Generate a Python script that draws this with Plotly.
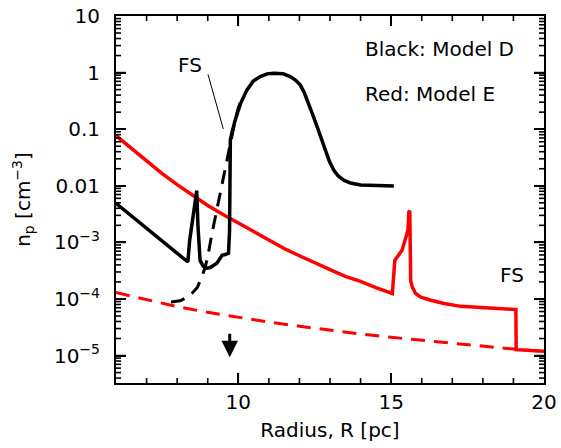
import plotly.graph_objects as go
import numpy as np

# ---- data ----
black_solid_x = [6.0, 8.35, 8.41, 8.48, 8.55, 8.64, 8.68, 8.75, 8.85, 8.97, 9.08, 9.30, 9.41, 9.47,
                 9.57, 9.68, 9.715, 9.72, 9.734, 9.74, 9.79, 9.90, 10.07, 10.28, 10.49, 10.72, 10.94,
                 11.16, 11.47, 11.70, 11.87, 12.03, 12.16, 12.30, 12.44, 12.58, 12.72, 12.85, 12.98,
                 13.12, 13.27, 13.45, 13.67, 14.0, 15.09]
black_solid_y = [4.9e-3, 4.5e-4, 1.09e-3, 2.28e-3, 3.7e-3, 8.2e-3, 2.0e-3, 4.8e-4, 3.8e-4, 3.5e-4,
                 3.6e-4, 4.3e-4, 5.25e-4, 5.9e-4, 6.1e-4, 6.4e-4, 1.64e-3, 5.6e-3, 0.0217, 0.0646,
                 0.0857, 0.146, 0.28, 0.49, 0.71, 0.85, 0.95, 0.97, 0.95, 0.85, 0.74, 0.60, 0.44,
                 0.29, 0.178, 0.11, 0.067, 0.043, 0.027, 0.019, 0.0149, 0.0126, 0.0112, 0.0103, 0.0099]

black_dash_x = [7.8, 8.1, 8.33, 8.49, 8.66, 8.81, 8.92, 9.01, 9.14, 9.24, 9.35, 9.47, 9.57, 9.67,
                9.79, 9.90, 10.0, 10.12]
black_dash_y = [8.8e-5, 9.3e-5, 1.07e-4, 1.26e-4, 1.6e-4, 2.45e-4, 3.7e-4, 5.9e-4, 1.44e-3, 2.7e-3,
                4.9e-3, 0.0103, 0.019, 0.035, 0.085, 0.146, 0.237, 0.356]

red_solid_x = [6.0, 6.5, 7.0, 7.5, 8.0, 8.5, 9.0, 9.5, 10.0, 10.5, 11.0, 11.5, 12.0, 12.5, 13.0,
               13.5, 14.0, 14.5, 15.04, 15.12, 15.2, 15.36, 15.47, 15.55, 15.58, 15.61, 15.64,
               15.69, 15.8, 15.97, 16.3, 16.73, 17.28, 18.37, 19.08, 19.09, 20.0]
red_solid_y = [0.077, 0.046, 0.027, 0.0165, 0.0105, 0.0068, 0.0045, 0.0031, 0.0022, 0.0015,
               0.00108, 0.00078, 0.00058, 0.00043, 0.00033, 0.00025, 0.000205, 0.000158,
               0.000125, 0.00048, 0.00056, 0.00073, 0.00117, 0.00164, 0.00347, 0.0036, 0.00021,
               0.000163, 0.000125, 0.000108, 9.5e-5, 8.3e-5, 7.4e-5, 6.8e-5, 6.5e-5, 1.27e-5, 1.19e-5]

red_dash_x = [6, 7, 8, 9, 10, 11, 12, 13, 14, 15, 16, 17, 18, 19, 20]
red_dash_y = [1.3e-4, 9.6e-5, 7.3e-5, 5.8e-5, 4.7e-5, 3.9e-5, 3.3e-5, 2.8e-5, 2.4e-5, 2.1e-5,
              1.85e-5, 1.63e-5, 1.45e-5, 1.3e-5, 1.18e-5]

y_tickvals = [10, 1, 0.1, 0.01, 1e-3, 1e-4, 1e-5]
y_ticktext = ["10", "1", "0.1", "0.01", "10<sup>\u22123</sup>", "10<sup>\u22124</sup>", "10<sup>\u22125</sup>"]
x_tickvals = [10, 15, 20]
x_ticktext = ["10", "15", "20"]
x_minor_vals = [7, 8, 9, 11, 12, 13, 14, 16, 17, 18, 19]

FONT = "DejaVu Sans"
X_RANGE = [6, 20]
Y_RANGE = [-5.485, 1]
MARGIN = dict(l=116, r=17, t=16, b=65)
W, H = 561, 448
PW = W - MARGIN["l"] - MARGIN["r"]
PH = H - MARGIN["t"] - MARGIN["b"]
PX_PER_X = PW / (X_RANGE[1] - X_RANGE[0])
PX_PER_DEC = PH / (Y_RANGE[1] - Y_RANGE[0])

fig = go.Figure()
fig.add_trace(go.Scatter(x=red_dash_x, y=red_dash_y, mode="lines",
                         line=dict(color="#ff0000", width=3, dash="14px,9px")))
fig.add_trace(go.Scatter(x=red_solid_x, y=red_solid_y, mode="lines",
                         line=dict(color="#ff0000", width=3.5)))
fig.add_trace(go.Scatter(x=black_dash_x, y=black_dash_y, mode="lines",
                         line=dict(color="black", width=3, dash="14px,9px")))
fig.add_trace(go.Scatter(x=black_solid_x, y=black_solid_y, mode="lines",
                         line=dict(color="black", width=3.5)))

# tick marks on all four sides, built from the tick value lists
def tick_segments():
    tx, ty = [], []
    ybot, ytop = 10 ** Y_RANGE[0], 10 ** Y_RANGE[1]
    for xv, ln in [(v, 10) for v in x_tickvals[:-1]] + [(v, 5) for v in x_minor_vals]:
        d = ln / PX_PER_DEC
        tx += [xv, xv, None, xv, xv, None]
        ty += [ybot, 10 ** (Y_RANGE[0] + d), None, ytop, 10 ** (Y_RANGE[1] - d), None]
    ylist = [(v, 10) for v in y_tickvals]
    for e in range(-6, 1):
        for m in range(2, 10):
            ylist.append((m * 10.0 ** e, 5))
    for yv, ln in ylist:
        ly = np.log10(yv)
        if ly <= Y_RANGE[0] or ly >= Y_RANGE[1]:
            continue
        d = ln / PX_PER_X
        tx += [X_RANGE[0], X_RANGE[0] + d, None, X_RANGE[1], X_RANGE[1] - d, None]
        ty += [yv, yv, None, yv, yv, None]
    return tx, ty

tick_x, tick_y = tick_segments()
fig.add_trace(go.Scatter(x=tick_x, y=tick_y, mode="lines", hoverinfo="skip",
                         line=dict(color="black", width=1.6), connectgaps=False))

fig.update_layout(
    width=W, height=H,
    margin=MARGIN,
    paper_bgcolor="white", plot_bgcolor="white",
    showlegend=False,
    font=dict(family=FONT, size=20, color="black"),
    xaxis=dict(range=X_RANGE, tickmode="array", tickvals=x_tickvals, ticktext=x_ticktext,
               ticks="inside", ticklen=10, tickwidth=2, tickcolor="black",
               showline=True, linewidth=2, linecolor="black", mirror="allticks",
               showgrid=False, zeroline=False, automargin=False,
               title=dict(text="Radius, R [pc]", font=dict(size=20), standoff=10),
               tickfont=dict(size=20)),
    yaxis=dict(type="log", range=Y_RANGE, tickmode="array", tickvals=y_tickvals,
               ticktext=y_ticktext,
               ticks="inside", ticklen=10, tickwidth=2, tickcolor="black",
               showline=True, linewidth=2, linecolor="black", mirror="allticks",
               showgrid=False, zeroline=False, automargin=False,
               title=dict(text="n<sub>p</sub> [cm<sup>\u22123</sup>]", font=dict(size=20), standoff=18),
               tickfont=dict(size=20), ticklabelstandoff=10),
)

fig.add_annotation(x=14.07, y=0.42, xref="x", yref="y",
                   text="Black: Model D", showarrow=False, xanchor="left", font=dict(size=20))
fig.add_annotation(text="Red: Model E", x=14.07, y=-0.377, xref="x", yref="y",
                   showarrow=False, xanchor="left", font=dict(size=20))
fig.add_annotation(text="FS", x=8.43, y=0.136, xref="x", yref="y", showarrow=False, font=dict(size=20))
fig.add_annotation(text="FS", x=18.94, y=-3.58, xref="x", yref="y", showarrow=False, font=dict(size=20))
fig.add_annotation(text=" ", x=9.51, y=-0.996, xref="x", yref="y", showarrow=True,
                   ax=-16, ay=-57, arrowhead=0, arrowwidth=1, arrowcolor="black", standoff=0,
                   font=dict(size=2))
fig.add_annotation(text=" ", x=9.72, y=-5.03, xref="x", yref="y", showarrow=True,
                   ax=0, ay=-26, arrowhead=2, arrowsize=1.1, arrowwidth=3, arrowcolor="black",
                   font=dict(size=2))

fig.write_html("out.html", post_script="document.body.style.margin='0';",
               config={"displayModeBar": False})
